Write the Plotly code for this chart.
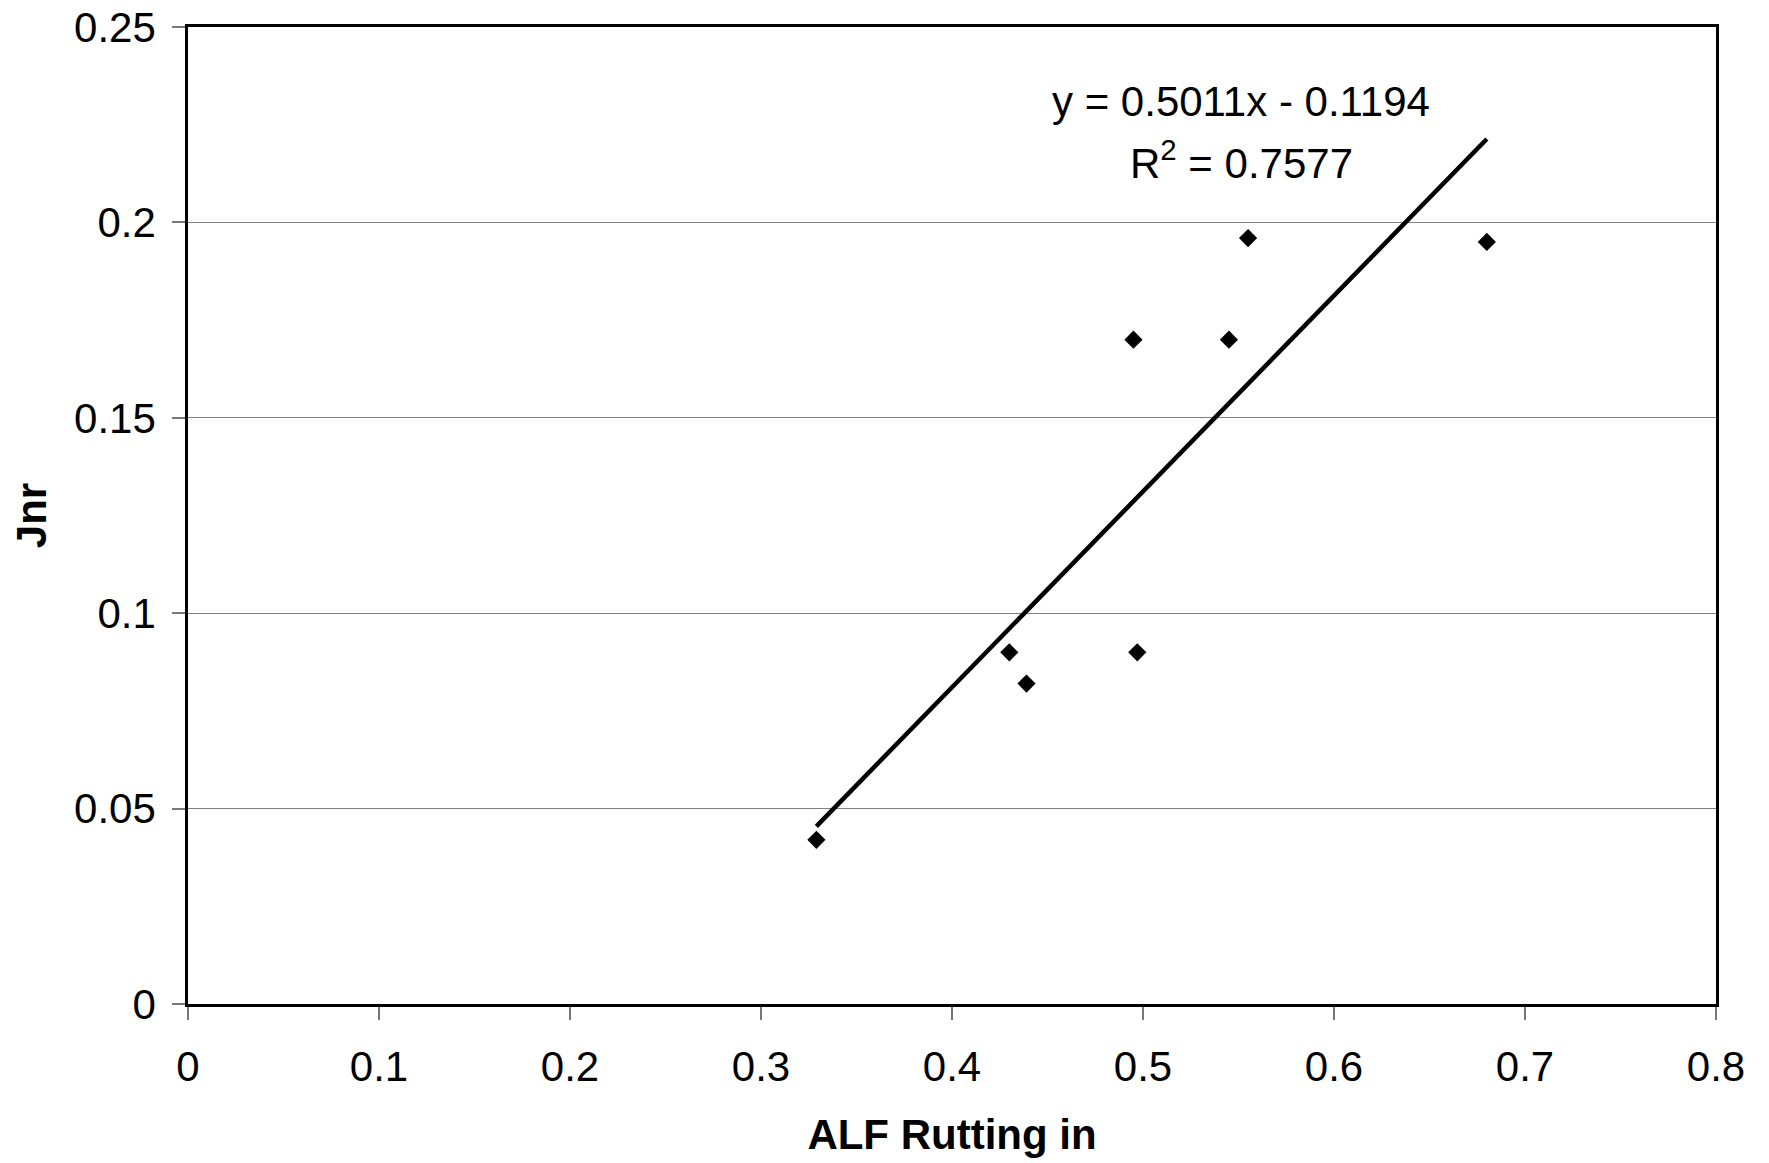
import plotly.graph_objects as go

# Data
alf_rutting = [0.329, 0.430, 0.439, 0.495, 0.497, 0.545, 0.555, 0.680]
jnr = [0.042, 0.090, 0.082, 0.170, 0.090, 0.170, 0.196, 0.195]

slope = 0.5011
intercept = -0.1194
r_squared = 0.7577

x_ticks = [0, 0.1, 0.2, 0.3, 0.4, 0.5, 0.6, 0.7, 0.8]
y_ticks = [0, 0.05, 0.1, 0.15, 0.2, 0.25]

FONT = "Liberation Sans, Arial, sans-serif"
FS = 42

x_min, x_max = min(alf_rutting), max(alf_rutting)
trend_x = [x_min, x_max]
trend_y = [slope * x + intercept for x in trend_x]

fig = go.Figure()
fig.add_trace(go.Scatter(x=trend_x, y=trend_y, mode="lines",
                         line=dict(color="black", width=4.5),
                         showlegend=False, hoverinfo="skip"))
fig.add_trace(go.Scatter(x=alf_rutting, y=jnr, mode="markers",
                         marker=dict(symbol="diamond", size=14, color="black",
                                     line=dict(width=0)),
                         showlegend=False))

eq_text = f"y = {slope:.4f}x - {abs(intercept):.4f}"
r2_text = f"R<sup>2</sup> = {r_squared:.4f}"
fig.add_annotation(x=0.5514, y=0.2309, xref="x", yref="y", text=eq_text,
                   showarrow=False, xanchor="center", yanchor="middle",
                   font=dict(family=FONT, size=FS, color="black"))
fig.add_annotation(x=0.5514, y=0.2159, xref="x", yref="y", text=r2_text,
                   showarrow=False, xanchor="center", yanchor="middle",
                   font=dict(family=FONT, size=FS, color="black"))

fig.update_layout(
    width=1769, height=1163,
    margin=dict(l=180, r=61, t=19, b=167, pad=0, autoexpand=False),
    paper_bgcolor="white", plot_bgcolor="white",
    font=dict(family=FONT, size=FS, color="black"),
    xaxis=dict(range=[0, 0.8], tickvals=x_ticks,
               ticktext=[f"{v:g}" for v in x_ticks],
               showgrid=False, zeroline=False, automargin=False,
               ticklabeloverflow="allow",
               showline=True, linecolor="black", linewidth=2.5, mirror=True,
               ticks="outside", ticklen=13, tickcolor="#777777", tickwidth=1.5,
               ticklabelstandoff=11,
               title=dict(text="<b>ALF Rutting in</b>", standoff=31,
                          font=dict(family=FONT, size=FS))),
    yaxis=dict(range=[0, 0.25], tickvals=y_ticks,
               ticktext=[f"{v:g}" for v in y_ticks],
               showgrid=True, gridcolor="#808080", gridwidth=1,
               zeroline=False, automargin=False,
               ticklabeloverflow="allow",
               showline=True, linecolor="black", linewidth=2.5, mirror=True,
               ticks="outside", ticklen=13, tickcolor="#777777", tickwidth=1.5,
               ticklabelstandoff=8,
               title=dict(text="<b>Jnr</b>", standoff=32,
                          font=dict(family=FONT, size=FS))),
)

fig.write_html("out.html")
